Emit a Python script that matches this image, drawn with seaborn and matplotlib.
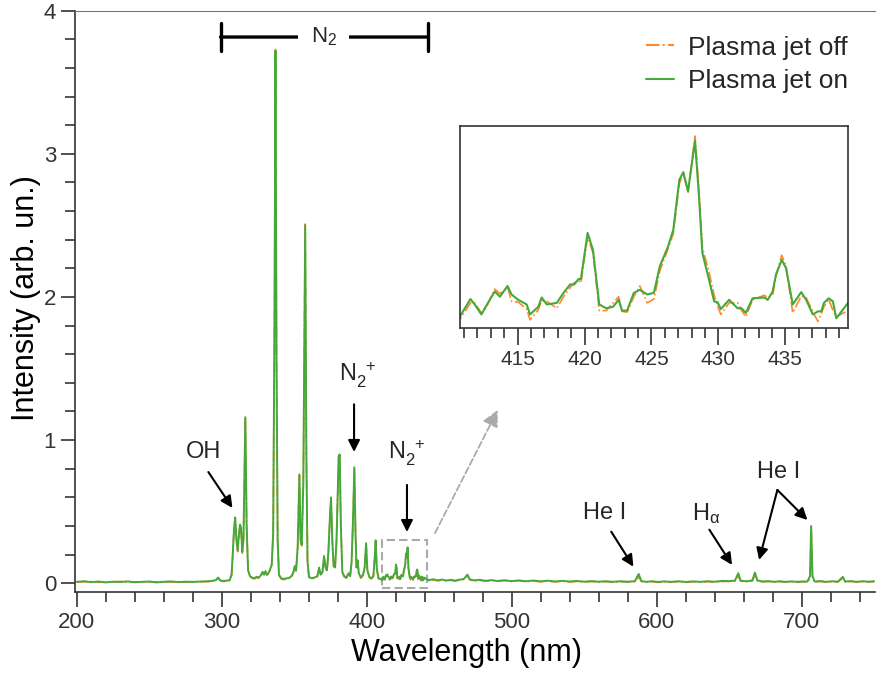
import numpy as np
import matplotlib
matplotlib.use("Agg")
import matplotlib.pyplot as plt
from matplotlib.patches import Rectangle
import seaborn as sns

# --------------------------------------------------------------
# Datos leidos del espectro (nm, intensidad arb. un.)
# --------------------------------------------------------------
# tramo UV 200-410 nm
wl_uv = [200, 205, 210, 215, 220, 225, 230, 235, 240, 245, 250, 255, 260, 265, 270,
         275, 280, 285, 290, 293, 296, 297.6, 299, 301, 303, 305.5, 306.8, 307.6,
         308.5, 309.3, 310.2, 311.0, 311.8, 312.6, 313.3, 314.2, 315.0, 316.3, 317.2,
         318.2, 319.5, 321, 322.5, 324, 325.5, 327, 328.2, 329.2, 330.2, 331.2, 332.5,
         333.5, 334.5, 335.5, 336.4, 337.1, 337.8, 338.6, 339.5, 341, 343, 345, 347,
         348.5, 349.5, 350.4, 351.3, 352.4, 353.6, 354.4, 355.2, 356.3, 357.6, 358.4,
         359.2, 360.2, 362, 364, 366, 367.2, 368.2, 369.5, 370.6, 371.6, 372.6, 373.6,
         374.6, 375.4, 376.3, 377.2, 378.2, 379.2, 380.2, 380.7, 381.4, 382.2, 383.2,
         384.5, 386, 387.5, 388.6, 389.6, 390.6, 391.5, 392.3, 393.0, 393.7, 394.6,
         396, 397.5, 398.6, 399.6, 400.5, 401.8, 403.2, 404.6, 405.5, 406.2, 407.0,
         408.2, 409.5]
on_uv = [0.010, 0.014, 0.008, 0.012, 0.006, 0.011, 0.009, 0.013, 0.007, 0.010, 0.012,
         0.006, 0.010, 0.013, 0.008, 0.011, 0.009, 0.012, 0.014, 0.016, 0.022, 0.040,
         0.020, 0.016, 0.018, 0.022, 0.060, 0.200, 0.380, 0.460, 0.300, 0.230, 0.330,
         0.410, 0.390, 0.220, 0.300, 1.160, 0.400, 0.090, 0.050, 0.040, 0.035, 0.045,
         0.040, 0.055, 0.080, 0.060, 0.085, 0.060, 0.075, 0.100, 0.130, 0.350, 1.800,
         3.720, 1.600, 0.300, 0.060, 0.035, 0.030, 0.035, 0.040, 0.055, 0.080, 0.120,
         0.090, 0.250, 0.760, 0.300, 0.270, 0.700, 2.500, 0.900, 0.150, 0.045, 0.035,
         0.040, 0.050, 0.110, 0.060, 0.080, 0.190, 0.110, 0.090, 0.220, 0.450, 0.600,
         0.300, 0.120, 0.110, 0.300, 0.700, 0.890, 0.900, 0.400, 0.080, 0.050, 0.040,
         0.070, 0.050, 0.150, 0.450, 0.810, 0.350, 0.110, 0.160, 0.070, 0.040, 0.060,
         0.110, 0.280, 0.090, 0.045, 0.035, 0.050, 0.170, 0.300, 0.100, 0.035, 0.030]
off_uv = [0.008, 0.010, 0.012, 0.006, 0.010, 0.009, 0.013, 0.007, 0.010, 0.006, 0.011,
          0.009, 0.012, 0.008, 0.011, 0.007, 0.012, 0.010, 0.011, 0.013, 0.020, 0.036,
          0.018, 0.012, 0.015, 0.018, 0.055, 0.190, 0.370, 0.455, 0.290, 0.220, 0.320,
          0.405, 0.380, 0.210, 0.300, 1.150, 0.395, 0.085, 0.045, 0.035, 0.030, 0.040,
          0.035, 0.050, 0.075, 0.060, 0.080, 0.055, 0.070, 0.095, 0.125, 0.340, 1.780,
          3.730, 1.590, 0.295, 0.055, 0.030, 0.025, 0.030, 0.035, 0.050, 0.075, 0.115,
          0.085, 0.240, 0.755, 0.290, 0.260, 0.690, 2.510, 0.890, 0.145, 0.040, 0.030,
          0.035, 0.045, 0.105, 0.055, 0.075, 0.185, 0.105, 0.085, 0.215, 0.440, 0.590,
          0.290, 0.115, 0.105, 0.290, 0.690, 0.880, 0.895, 0.390, 0.075, 0.045, 0.035,
          0.065, 0.045, 0.145, 0.440, 0.800, 0.340, 0.105, 0.160, 0.065, 0.035, 0.055,
          0.105, 0.275, 0.085, 0.040, 0.030, 0.045, 0.165, 0.295, 0.095, 0.030, 0.025]

# tramo del recuadro 410-440 nm (tambien dibujado en el inset)
wl_zoom = [410.68, 411.48, 411.80, 412.30, 412.55, 413.30, 413.68, 414.25, 414.55, 415.05,
           415.68, 415.93, 416.55, 416.80, 417.18, 417.93, 418.43, 418.93, 419.23, 419.55,
           419.73, 420.23, 420.63, 421.10, 421.63, 422.13, 422.55, 422.80, 423.18, 423.68,
           424.13, 424.68, 425.18, 425.63, 426.23, 426.63, 427.08, 427.38, 427.73, 428.25,
           428.55, 428.80, 429.30, 429.68, 429.93, 430.18, 430.80, 431.43, 431.73, 432.05,
           432.55, 433.43, 433.68, 434.05, 434.30, 434.73, 435.05, 435.55, 436.18, 436.55,
           437.05, 437.43, 437.68, 437.88, 438.23, 438.55, 438.80, 439.68]
on_zoom = [0.022, 0.045, 0.038, 0.025, 0.033, 0.055, 0.048, 0.062, 0.051, 0.044,
           0.038, 0.025, 0.035, 0.047, 0.038, 0.040, 0.053, 0.064, 0.064, 0.071,
           0.071, 0.131, 0.109, 0.038, 0.033, 0.035, 0.044, 0.030, 0.030, 0.053,
           0.057, 0.051, 0.053, 0.088, 0.113, 0.135, 0.200, 0.210, 0.185, 0.251,
           0.178, 0.105, 0.070, 0.042, 0.041, 0.032, 0.044, 0.033, 0.033, 0.027,
           0.046, 0.047, 0.044, 0.055, 0.077, 0.096, 0.085, 0.038, 0.054, 0.044,
           0.025, 0.029, 0.029, 0.040, 0.046, 0.042, 0.020, 0.040]
off_zoom = [0.018, 0.040, 0.040, 0.027, 0.030, 0.058, 0.052, 0.060, 0.042, 0.041,
            0.032, 0.018, 0.031, 0.043, 0.042, 0.033, 0.048, 0.060, 0.066, 0.069,
            0.066, 0.126, 0.105, 0.030, 0.030, 0.040, 0.048, 0.029, 0.028, 0.048,
            0.062, 0.040, 0.045, 0.082, 0.110, 0.130, 0.195, 0.208, 0.183, 0.257,
            0.185, 0.112, 0.080, 0.050, 0.036, 0.025, 0.040, 0.040, 0.030, 0.022,
            0.044, 0.050, 0.047, 0.050, 0.075, 0.102, 0.088, 0.027, 0.049, 0.047,
            0.028, 0.016, 0.026, 0.035, 0.045, 0.030, 0.022, 0.030]

# tramo visible 440-750 nm
wl_vis = [441, 443, 446, 449, 452, 455, 458, 461, 464, 467, 469.5, 471, 474, 478, 482,
          486, 490, 495, 500, 505, 510, 515, 520, 525, 530, 535, 540, 545, 550, 555,
          560, 565, 570, 575, 580, 585, 587.6, 589.5, 593, 597, 601, 605, 610, 615,
          620, 625, 630, 635, 640, 645, 650, 654, 656.3, 658, 662, 666, 667.8, 669.5,
          673, 677, 681, 685, 689, 693, 697, 701, 704, 705.8, 706.6, 707.5, 709, 713,
          717, 721, 725, 728.5, 730, 734, 738, 742, 746, 750]
on_vis = [0.030, 0.022, 0.028, 0.020, 0.026, 0.019, 0.024, 0.018, 0.025, 0.030, 0.060,
          0.028, 0.020, 0.024, 0.017, 0.022, 0.016, 0.021, 0.015, 0.020, 0.014, 0.019,
          0.013, 0.018, 0.012, 0.017, 0.012, 0.016, 0.011, 0.015, 0.011, 0.014, 0.010,
          0.014, 0.011, 0.014, 0.065, 0.015, 0.010, 0.014, 0.009, 0.013, 0.010, 0.014,
          0.009, 0.013, 0.010, 0.014, 0.011, 0.016, 0.015, 0.018, 0.070, 0.018, 0.014,
          0.020, 0.075, 0.020, 0.012, 0.015, 0.010, 0.014, 0.010, 0.013, 0.010, 0.013,
          0.012, 0.050, 0.400, 0.050, 0.012, 0.015, 0.010, 0.014, 0.011, 0.045, 0.012,
          0.015, 0.010, 0.014, 0.011, 0.014]
off_vis = [0.026, 0.018, 0.024, 0.017, 0.023, 0.016, 0.020, 0.015, 0.022, 0.027, 0.055,
           0.024, 0.016, 0.020, 0.014, 0.018, 0.013, 0.018, 0.012, 0.017, 0.011, 0.016,
           0.010, 0.015, 0.010, 0.014, 0.009, 0.013, 0.009, 0.012, 0.008, 0.011, 0.008,
           0.011, 0.009, 0.012, 0.045, 0.012, 0.008, 0.011, 0.007, 0.010, 0.008, 0.011,
           0.007, 0.010, 0.008, 0.011, 0.008, 0.012, 0.013, 0.014, 0.050, 0.014, 0.011,
           0.016, 0.055, 0.016, 0.010, 0.012, 0.008, 0.011, 0.008, 0.011, 0.008, 0.010,
           0.010, 0.030, 0.390, 0.040, 0.010, 0.012, 0.008, 0.011, 0.009, 0.035, 0.010,
           0.012, 0.008, 0.011, 0.009, 0.011]

wl = np.array(wl_uv + wl_zoom + wl_vis)
on = np.array(on_uv + on_zoom + on_vis)
off = np.array(off_uv + off_zoom + off_vis)

# --------------------------------------------------------------
# Estilo
# --------------------------------------------------------------
sns.set_theme(style="ticks")
plt.rcParams["font.family"] = ["Liberation Sans", "DejaVu Sans"]
plt.rcParams["mathtext.fontset"] = "custom"
plt.rcParams["mathtext.rm"] = "Liberation Sans"
plt.rcParams["mathtext.it"] = "Liberation Sans"
plt.rcParams["mathtext.bf"] = "Liberation Sans:bold"

c_off = "#ff8a2a"
c_on = "#45a83b"
tick_col = "#333333"

fig = plt.figure(figsize=(8.77, 6.73), dpi=100)
ax = fig.add_axes([0.0855, 0.1208, 0.912, 0.8633])

sns.lineplot(x=wl, y=off, ax=ax, color=c_off, lw=1.2, linestyle="-.", label="Plasma jet off")
sns.lineplot(x=wl, y=on, ax=ax, color=c_on, lw=1.4, label="Plasma jet on")

ax.set_xlim(198.8, 750.5)
ax.set_ylim(-0.059, 4.0)
ax.set_xticks([200, 300, 400, 500, 600, 700])
ax.set_xticks(np.arange(220, 751, 20), minor=True)
ax.set_yticks([0, 1, 2, 3, 4])
ax.set_yticks(np.arange(0, 4.01, 0.2), minor=True)
ax.tick_params(axis="both", which="major", labelsize=16, colors=tick_col, width=1.2)
ax.tick_params(axis="x", which="major", length=11)
ax.tick_params(axis="x", which="minor", length=7, width=1.2, colors=tick_col)
ax.tick_params(axis="y", which="major", length=10)
ax.tick_params(axis="y", which="minor", length=7, width=1.2, colors=tick_col)
for s in ["left", "bottom"]:
    ax.spines[s].set_color(tick_col)
    ax.spines[s].set_linewidth(1.2)
ax.spines["right"].set_visible(False)
ax.spines["top"].set_color("#777777")
ax.spines["top"].set_linewidth(0.8)

ax.set_xlabel("Wavelength (nm)", fontsize=22, color="black")
ax.set_ylabel("Intensity (arb. un.)", fontsize=22, color="black")
ax.xaxis.set_label_coords(0.489, -0.080)
ax.yaxis.set_label_coords(-0.043, 0.505)

leg = ax.legend(loc="upper left", bbox_to_anchor=(0.7366, 0.947), bbox_transform=fig.transFigure,
                frameon=False, fontsize=19, handlelength=1.06, handletextpad=0.53,
                labelspacing=0.36, borderpad=0, borderaxespad=0)
for h in leg.get_lines():
    h.set_linewidth(1.5)

# --------------------------------------------------------------
# Anotaciones
# --------------------------------------------------------------
arrow_k = dict(arrowstyle="-|>,head_length=0.5,head_width=0.25", color="black",
               lw=1.5, mutation_scale=14, shrinkA=0, shrinkB=0)
fs_ann = 17
n2p = r"N$_2^{\hspace{0.45}+}$"

# banda N2
ax.annotate("", xy=(299.2, 3.816), xytext=(442.3, 3.816),
            arrowprops=dict(arrowstyle="|-|,widthA=0.5,widthB=0.5", color="black",
                            lw=2.4, mutation_scale=20, shrinkA=0, shrinkB=0))
ax.text(370.5, 3.816, "N$_2$", fontsize=16, ha="center", va="center",
        bbox=dict(facecolor="white", edgecolor="none", pad=9))

ax.text(287.4, 0.92, "OH", fontsize=fs_ann, ha="center", va="center")
ax.annotate("", xy=(307.4, 0.526), xytext=(290.8, 0.777), arrowprops=arrow_k)

ax.text(393.4, 1.45, n2p, fontsize=fs_ann, ha="center", va="center")
ax.annotate("", xy=(391.3, 0.917), xytext=(391.3, 1.25), arrowprops=arrow_k)

ax.text(427.8, 0.91, n2p, fontsize=fs_ann, ha="center", va="center")
ax.annotate("", xy=(427.8, 0.358), xytext=(427.8, 0.687), arrowprops=arrow_k)

ax.text(564.1, 0.49, "He I", fontsize=fs_ann, ha="center", va="center")
ax.annotate("", xy=(584.0, 0.116), xytext=(568.7, 0.36), arrowprops=arrow_k)

ax.text(634.1, 0.49, r"H$_\alpha$", fontsize=fs_ann, ha="center", va="center")
ax.annotate("", xy=(652.0, 0.128), xytext=(636.4, 0.374), arrowprops=arrow_k)

ax.text(684.5, 0.78, "He I", fontsize=fs_ann, ha="center", va="center")
ax.annotate("", xy=(670.7, 0.163), xytext=(683.3, 0.652), arrowprops=arrow_k)
ax.annotate("", xy=(704.0, 0.442), xytext=(683.3, 0.652), arrowprops=arrow_k)

# recuadro y flecha hacia el inset
ax.add_patch(Rectangle((410.6, -0.03), 31.0, 0.332, fill=False, edgecolor="#aaaaaa",
                       lw=1.5, linestyle=(0, (4, 2))))
ax.annotate("", xy=(490.4, 1.21), xytext=(447.1, 0.35),
            arrowprops=dict(arrowstyle="-|>,head_length=0.7,head_width=0.35",
                            color="#aaaaaa", lw=1.3, linestyle="--",
                            mutation_scale=14, shrinkA=0, shrinkB=0))

# --------------------------------------------------------------
# Inset 410-440 nm
# --------------------------------------------------------------
axin = fig.add_axes([0.5245, 0.5122, 0.4428, 0.3006])
sns.lineplot(x=wl, y=off, ax=axin, color=c_off, lw=1.2, linestyle="-.", legend=False)
sns.lineplot(x=wl, y=on, ax=axin, color=c_on, lw=1.5, legend=False)
axin.set_xlim(410.7, 439.7)
axin.set_ylim(0.007, 0.27)
axin.set_xticks([415, 420, 425, 430, 435])
axin.set_xticks(np.arange(411, 440, 1), minor=True)
axin.set_yticks([])
axin.set_xlabel("")
axin.set_ylabel("")
axin.tick_params(axis="x", which="major", labelsize=15, colors=tick_col, length=12, width=1.2)
axin.tick_params(axis="x", which="minor", length=7, width=1.2, colors=tick_col)
for s in axin.spines.values():
    s.set_color(tick_col)
    s.set_linewidth(1.2)

fig.savefig("out.png", dpi=100)
